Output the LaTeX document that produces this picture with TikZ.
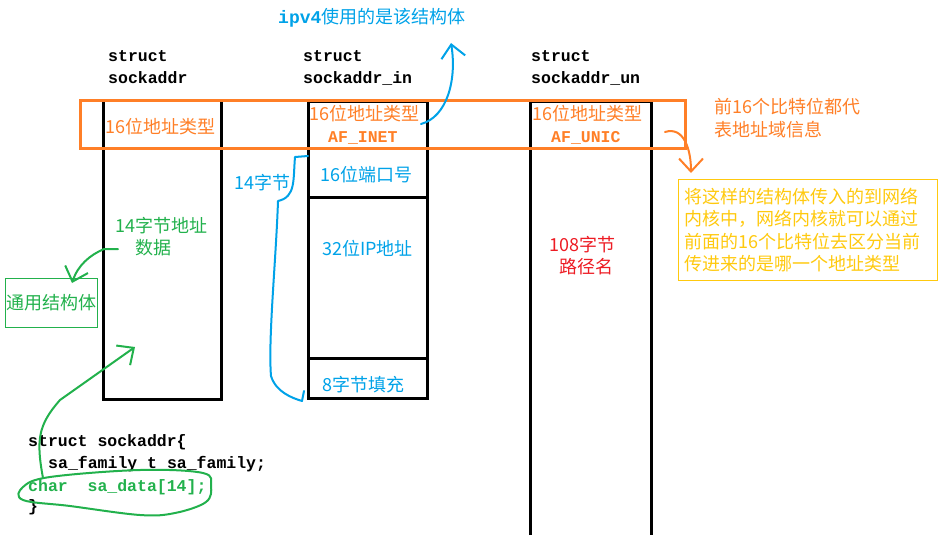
\documentclass[tikz,border=0pt]{standalone}
\usepackage{fontspec}
\setmainfont{Noto Sans CJK SC}
\setmonofont{Liberation Mono}
\usepackage{tikz}
\usetikzlibrary{arrows.meta,positioning,calc}
\definecolor{paintblue}{RGB}{0,162,232}
\definecolor{paintorange}{RGB}{255,127,39}
\definecolor{paintgreen}{RGB}{34,177,76}
\definecolor{paintred}{RGB}{237,28,36}
\definecolor{paintgold}{RGB}{255,201,14}

\begin{document}
\begin{tikzpicture}[x=1pt, y=-1pt,
    cjk/.style={font=\fontsize{18}{22}\selectfont, inner sep=0pt, anchor=west},
    code/.style={font=\fontsize{16.5}{20}\selectfont\ttfamily\bfseries,
                 inner sep=0pt, anchor=base west},
    wall/.style={line width=3pt, black},
    hand/.style={line width=2pt, line cap=round, line join=round},
    barb/.style={-{Straight Barb[length=13pt, width=24pt]}}
  ]
  \useasboundingbox (0,0) rectangle (941,535);

  % the three structures
  \draw[wall] (103,101) -- (103,399) -- (221,399) -- (221,101);
  \draw[wall] (308,101) rectangle (427,398);
  \draw[wall] (308,197) -- (427,197);
  \draw[wall] (308,358) -- (427,358);
  \draw[wall] (530,535) -- (530,101) -- (651,101) -- (651,535);

  % first 16 bits: address family
  \node[draw=paintorange, line width=3pt, inner sep=0pt, anchor=north west,
        minimum width=605, minimum height=48] (family) at (79,99) {};

  \node[cjk, text=paintblue] (ipv4) at (278,18)
    {{\ttfamily\bfseries ipv4}使用的是该结构体};

  \node[code] (hdA) at (108,61) {struct};
  \node[code] (nameA) at (108,83) {sockaddr};
  \node[code] (hdB) at (303,61) {struct};
  \node[code] (nameB) at (303,83) {sockaddr\_in};
  \node[code] (hdC) at (531,61) {struct};
  \node[code] (nameC) at (531,83) {sockaddr\_un};

  \node[cjk, text=paintorange] (famA) at (105,127) {16位地址类型};
  \node[cjk, text=paintorange] (famB) at (309,114) {16位地址类型};
  \node[code, text=paintorange] (inet) at (328,142) {AF\_INET};
  \node[cjk, text=paintorange] (famC) at (532,114) {16位地址类型};
  \node[code, text=paintorange] (unic) at (551,142) {AF\_UNIC};

  \node[cjk, text=paintorange] (note1) at (714,107) {前16个比特位都代};
  \node[cjk, text=paintorange] (note2) at (714,130) {表地址域信息};

  \node[draw=paintgold, line width=1.2pt, text=paintgold,
        font=\fontsize{18}{22.5}\selectfont, align=left, text width=248,
        inner xsep=5.5, inner ysep=0pt, minimum height=101,
        anchor=north west] (kernel) at (678,179)
    {将这样的结构体传入的到网络\\内核中，网络内核就可以通过\\
     前面的16个比特位去区分当前\\传进来的是哪一个地址类型};

  \node[cjk, text=paintblue] (len14) at (234,183) {14字节};
  \node[cjk, text=paintblue] (port) at (320,175) {16位端口号};
  \node[cjk, text=paintblue] (ipaddr) at (322,249) {32位IP地址};
  \node[cjk, text=paintblue] (pad) at (322,385) {8字节填充};

  \node[cjk, text=paintgreen] (dataA) at (115,226) {14字节地址};
  \node[cjk, text=paintgreen] (dataB) at (135,248) {数据};
  \node[draw=paintgreen, line width=1pt, text=paintgreen,
        font=\fontsize{18}{22}\selectfont, inner sep=0pt,
        minimum width=92, minimum height=49, anchor=north west]
    (generic) at (5,278) {通用结构体};

  \node[cjk, text=paintred] (path1) at (549,245) {108字节};
  \node[cjk, text=paintred] (path2) at (559,267) {路径名};

  \node[code] (src1) at (28,446) {struct sockaddr\{};
  \node[code] (src2) at (48,468) {sa\_family\_t sa\_family;};
  \node[code, text=paintgreen] (src3) at (28,491) {char~~sa\_data[14];};
  \node[code] (src4) at (28,511) {\}};

  % hand-drawn marks
  \coordinate (inetEnd) at (421,124);
  \coordinate (ipv4Tip) at (451,43);
  \draw[hand, paintblue, barb] (inetEnd) .. controls (447,117) and (457,80) .. (ipv4Tip);

  \draw[hand, paintblue] (308,156) -- (295,157)
    .. controls (293,180) and (296,197) .. (278,201)
    .. controls (276,260) and (268,340) .. (271,376)
    .. controls (276,392) and (292,398) .. (302,401) -- (304,391);

  \coordinate (dataEnd) at (118,249);
  \coordinate (genericTip) at (72,283);
  \draw[hand, paintgreen, barb] (dataEnd) -- (104,249)
    .. controls (90,255) and (78,265) .. (genericTip);

  \draw[hand, paintgreen] plot[smooth cycle, tension=0.6] coordinates
    {(23,487) (50,477) (140,470) (203,473) (211,486) (206,502)
     (175,513) (140,515) (70,506) (23,500)};
  \coordinate (loopTop) at (43,478);
  \coordinate (columnTip) at (135,347);
  \draw[hand, paintgreen, barb] (loopTop) .. controls (36,440) and (38,425) .. (60,400)
    -- (columnTip);

  \coordinate (familyEnd) at (665,132);
  \coordinate (kernelTip) at (691,173);
  \draw[hand, paintorange, barb] (familyEnd) .. controls (684,126) and (691,150) .. (kernelTip);
\end{tikzpicture}
\end{document}
